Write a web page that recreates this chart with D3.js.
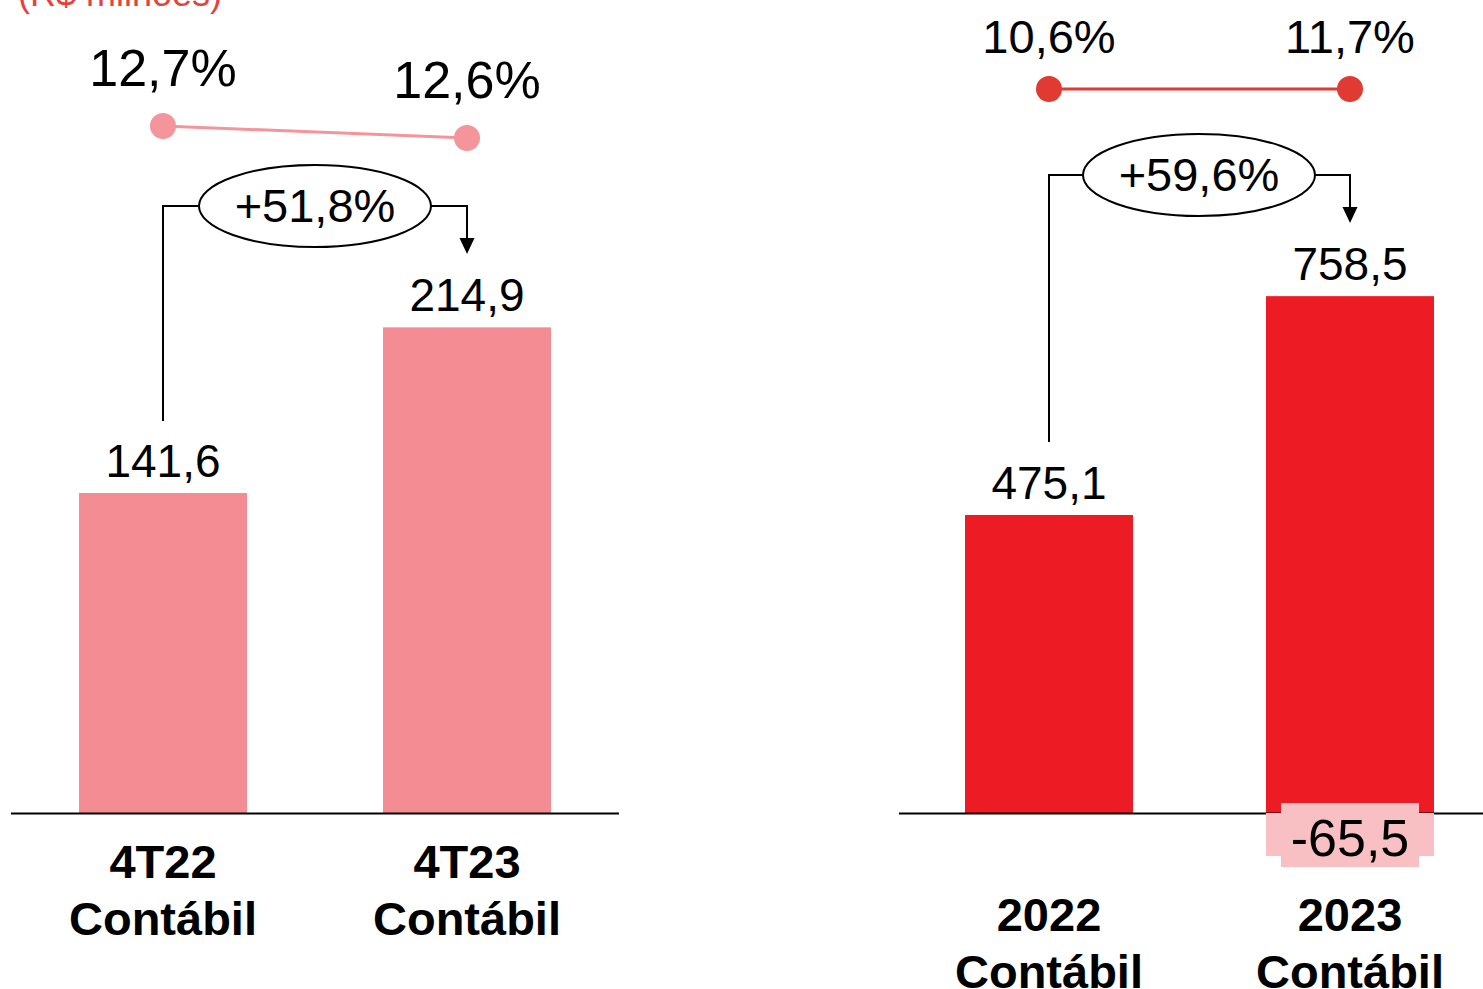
<!DOCTYPE html>
<html><head><meta charset="utf-8">
<script src="https://cdn.jsdelivr.net/npm/d3@7"></script>
<style>body{margin:0;background:#fff}svg{display:block;font-family:"Liberation Sans",Arial,sans-serif}</style>
</head><body><svg id="c" width="1483" height="989"></svg>
<script>
const unitLabel = "(R$ milhões)";
const qCategories = ["4T22|Contábil", "4T23|Contábil"];
const qValues = [141.6, 214.9];
const qMargins = [12.7, 12.6];
const qGrowth = "+51,8%";
const yCategories = ["2022|Contábil", "2023|Contábil"];
const yValues = [475.1, 758.5];
const yAdjust = [0, -65.5];
const yMargins = [10.6, 11.7];
const yGrowth = "+59,6%";

const svg = d3.select("#c");
const fmt = v => d3.format(".1f")(v).replace(".", ",").replace("\u2212", "-");

svg.append("text").attr("x",18).attr("y",6).attr("fill","#e8413a").attr("font-size",36).text(unitLabel);

function panel(o){
  const g = svg.append("g");
  const x = d3.scaleBand().domain(o.cats).range(o.xr).paddingInner(o.pi).paddingOuter(o.po);
  const y = d3.scaleLinear().domain([0, o.refV]).range([813, o.refTop]);
  const bw = x.bandwidth();
  const cx = c => x(c) + bw/2;
  const tops = o.vals.map((v,i)=> v - (o.adj ? o.adj[i] : 0));
  g.selectAll("rect.bar").data(o.cats).join("rect").attr("class","bar")
    .attr("x", c=>x(c)).attr("width", bw)
    .attr("y",(c,i)=>y(tops[i])).attr("height",(c,i)=>y(0)-y(tops[i])).attr("fill", o.color);
  g.append("line").attr("x1",o.axis[0]).attr("x2",o.axis[1]).attr("y1",813.5).attr("y2",813.5).attr("stroke","#000").attr("stroke-width",2);
  g.selectAll("text.val").data(o.cats).join("text").attr("class","val")
    .attr("x", c=>cx(c)).attr("y",(c,i)=>y(tops[i])-16).attr("text-anchor","middle").attr("font-size",46)
    .text((c,i)=>fmt(o.vals[i]));
  o.cats.forEach(c=>{
    const t = g.append("text").attr("text-anchor","middle").attr("font-size",47).attr("font-weight","bold");
    c.split("|").forEach((s,k)=> t.append("tspan").attr("x",cx(c)).attr("y",o.catY + k*57).text(s));
  });
  if (o.adj) o.adj.forEach((a,i)=>{
    if(!a) return;
    const c = o.cats[i], xc = cx(c);
    g.append("rect").attr("x",x(c)).attr("y",813).attr("width",bw).attr("height",43).attr("fill","#f9c0c4");
    g.append("rect").attr("x",x(c)+15).attr("y",803).attr("width",bw-30).attr("height",64).attr("fill","#f9c0c4");
    g.append("text").attr("x",xc).attr("y",856).attr("text-anchor","middle").attr("font-size",52).text(fmt(a));
  });
  const m = d3.scaleLinear().domain(o.mDom).range(o.mRange);
  g.append("path").datum(o.margins).attr("fill","none").attr("stroke",o.mColor).attr("stroke-width",3)
    .attr("d", d3.line().x((d,i)=>cx(o.cats[i])).y(d=>m(d)));
  g.selectAll("circle").data(o.margins).join("circle").attr("cx",(d,i)=>cx(o.cats[i])).attr("cy",d=>m(d)).attr("r",13).attr("fill",o.mColor);
  g.selectAll("text.m").data(o.margins).join("text").attr("class","m")
    .attr("x",(d,i)=>cx(o.cats[i])).attr("y",d=>m(d)-o.mOff).attr("text-anchor","middle").attr("font-size",o.mSize)
    .text(d=>fmt(d)+"%");
  const x0 = cx(o.cats[0]), x1 = cx(o.cats[1]);
  const ex = o.ell[0], ey = o.ell[1], rx = 116, ry = 41;
  g.append("path").attr("fill","none").attr("stroke","#000").attr("stroke-width",2)
    .attr("d",`M${x0},${o.startY}V${ey}H${ex-rx}`);
  g.append("path").attr("fill","none").attr("stroke","#000").attr("stroke-width",2)
    .attr("d",`M${ex+rx},${ey}H${x1}V${o.arrowY-14}`);
  g.append("path").attr("fill","#000").attr("d",`M${x1-7.5},${o.arrowY-16}H${x1+7.5}L${x1},${o.arrowY}Z`);
  g.append("ellipse").attr("cx",ex).attr("cy",ey).attr("rx",rx).attr("ry",ry).attr("fill","#fff").attr("stroke","#000").attr("stroke-width",2);
  g.append("text").attr("x",ex).attr("y",ey+16).attr("text-anchor","middle").attr("font-size",47).text(o.growth);
}

panel({cats:qCategories, vals:qValues, xr:[11,619], pi:136/304, po:68/304, axis:[11,619],
  refV:141.6, refTop:493, color:"#f48c94", catY:878,
  margins:qMargins, mDom:[12.6,12.7], mRange:[138,126], mColor:"#f4959b", mOff:40, mSize:52,
  ell:[315,206], startY:421, arrowY:254, growth:qGrowth});

panel({cats:yCategories, vals:yValues, adj:yAdjust, xr:[899,1500], pi:133/301, po:66/301, axis:[899,1483],
  refV:475.1, refTop:515, color:"#ed1c24", catY:931,
  margins:yMargins, mDom:[10.6,11.7], mRange:[89,89], mColor:"#e03a32", mOff:36, mSize:47,
  ell:[1199,175], startY:442, arrowY:223, growth:yGrowth});
</script></body></html>
